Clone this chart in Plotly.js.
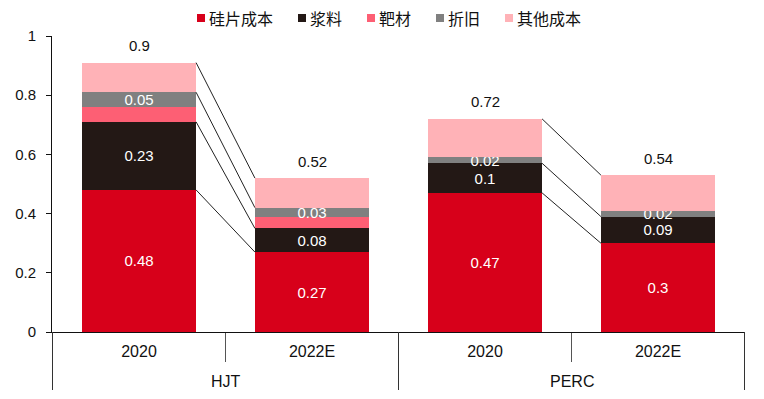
<!DOCTYPE html>
<html>
<head>
<meta charset="utf-8">
<script src="https://cdn.plot.ly/plotly-3.0.1.min.js"></script>
<style>html,body{margin:0;padding:0;background:#fff}#chart{width:764px;height:399px}</style>
</head>
<body>
<div id="chart"></div>
<script>
// ---- data ----
var groups = ['HJT', 'HJT', 'PERC', 'PERC'];
var years = ['2020', '2022E', '2020', '2022E'];
var seriesNames = ['硅片成本', '浆料', '靶材', '折旧', '其他成本'];
var silicon = [0.48, 0.27, 0.47, 0.30];
var paste = [0.23, 0.08, 0.10, 0.09];
var target = [0.05, 0.04, 0, 0];
var depreciation = [0.05, 0.03, 0.02, 0.02];
var other = [0.10, 0.10, 0.13, 0.12];
var totalLabels = ['0.9', '0.52', '0.72', '0.54'];
// which cumulative levels are joined by connector lines (series index tops)
var connectorLevels = [[0, 1, 3, 4], [0, 1, 4]];

// ---- styles ----
var colors = ['#d7001a', '#231815', '#fd5f74', '#808080', '#ffb2b7'];
var showText = [true, true, false, true, false];
var barWidth = 0.66;
var seriesVals = [silicon, paste, target, depreciation, other];
var fontNum = 'Liberation Sans, Arial, sans-serif';
var fontCJK = 'Noto Sans CJK SC, sans-serif';

var M = {l: 52, r: 19, t: 36, b: 67};
var W = 764, H = 399;
var pw = W - M.l - M.r, ph = H - M.t - M.b;
function px2x(px) { return (px - M.l) / pw; }
function py2y(py) { return (H - M.b - py) / ph; }

// unique category keys, years shown as tick text
var cats = years.map(function (y, i) { return groups[i] + ' ' + y; });

var traces = seriesVals.map(function (vals, i) {
  return {
    type: 'bar',
    name: seriesNames[i],
    x: cats,
    y: vals,
    marker: {color: colors[i], line: {width: 0}},
    width: barWidth,
    text: showText[i] ? vals.map(function (v) { return v > 0 ? String(v) : ''; }) : undefined,
    textposition: showText[i] ? 'inside' : 'none',
    insidetextanchor: 'middle',
    constraintext: 'none',
    textfont: {family: fontNum, size: 15, color: '#ffffff'},
    hoverinfo: 'skip',
    showlegend: false
  };
});

// cumulative sums
var cum = seriesVals.map(function (_, i) {
  return years.map(function (_, j) {
    var s = 0;
    for (var k = 0; k <= i; k++) s += seriesVals[k][j];
    return Math.round(s * 1000) / 1000;
  });
});
var totals = cum[cum.length - 1];

var annotations = totals.map(function (t, j) {
  return {
    xref: 'x', yref: 'y', x: j, y: t, text: totalLabels[j],
    showarrow: false, yshift: 17, yanchor: 'middle', xanchor: 'center',
    font: {family: fontNum, size: 15, color: '#111'}
  };
});

var shapes = [];
connectorLevels.forEach(function (levels, g) {
  var a = g * 2, b = g * 2 + 1;
  levels.forEach(function (si) {
    shapes.push({
      type: 'line', xref: 'x', yref: 'y',
      x0: a + barWidth / 2, y0: cum[si][a],
      x1: b - barWidth / 2, y1: cum[si][b],
      line: {color: '#222', width: 1}
    });
  });
});

// group labels and group dividers under the axis
var groupNames = [];
groups.forEach(function (g) { if (groupNames.indexOf(g) < 0) groupNames.push(g); });
groupNames.forEach(function (g, gi) {
  var idx = [];
  groups.forEach(function (gg, j) { if (gg === g) idx.push(j); });
  var first = idx[0], last = idx[idx.length - 1];
  annotations.push({
    xref: 'x', yref: 'paper', x: (first + last) / 2, y: py2y(381),
    text: g, showarrow: false, xanchor: 'center', yanchor: 'middle',
    font: {family: fontNum, size: 16, color: '#111'}
  });
  [first - 0.5, last + 0.5].forEach(function (xb) {
    shapes.push({
      type: 'line', xref: 'x', yref: 'paper',
      x0: xb, x1: xb, y0: 0, y1: py2y(390),
      line: {color: '#333', width: 1}
    });
  });
});

// legend (square + label) placed above the plot
var lx = 197, ly = 18, lfs = 16;
seriesNames.forEach(function (name, i) {
  shapes.push({
    type: 'rect', xref: 'paper', yref: 'paper',
    x0: px2x(lx), x1: px2x(lx + 8), y0: py2y(ly + 4), y1: py2y(ly - 4),
    fillcolor: colors[i], line: {width: 0}
  });
  annotations.push({
    xref: 'paper', yref: 'paper', x: px2x(lx + 10), y: py2y(ly - 0.5),
    xanchor: 'left', yanchor: 'middle', showarrow: false, text: name,
    font: {family: fontCJK, size: lfs, color: '#111'}
  });
  lx += name.length * lfs + 37;
});

var layout = {
  width: W, height: H,
  margin: {l: M.l, r: M.r, t: M.t, b: M.b, autoexpand: false},
  paper_bgcolor: '#fff', plot_bgcolor: '#fff',
  barmode: 'stack',
  bargap: 0.34,
  showlegend: false,
  font: {family: fontNum, color: '#111'},
  xaxis: {
    type: 'category',
    tickmode: 'array', tickvals: cats, ticktext: years,
    showline: true, linecolor: '#111', linewidth: 1,
    ticks: 'outside', tickson: 'boundaries', ticklen: 29, tickcolor: '#555', tickwidth: 1,
    ticklabelstandoff: 5,
    tickfont: {family: fontNum, size: 16, color: '#111'},
    showgrid: false, zeroline: false
  },
  yaxis: {
    range: [0, 1], dtick: 0.2, tick0: 0,
    showline: true, linecolor: '#111', linewidth: 1,
    ticks: 'outside', ticklen: 5, tickcolor: '#111',
    ticklabelstandoff: 7,
    tickfont: {family: fontNum, size: 15, color: '#111'},
    showgrid: false, zeroline: false
  },
  shapes: shapes,
  annotations: annotations
};

Plotly.newPlot('chart', traces, layout, {staticPlot: true, displayModeBar: false});
</script>
</body>
</html>
